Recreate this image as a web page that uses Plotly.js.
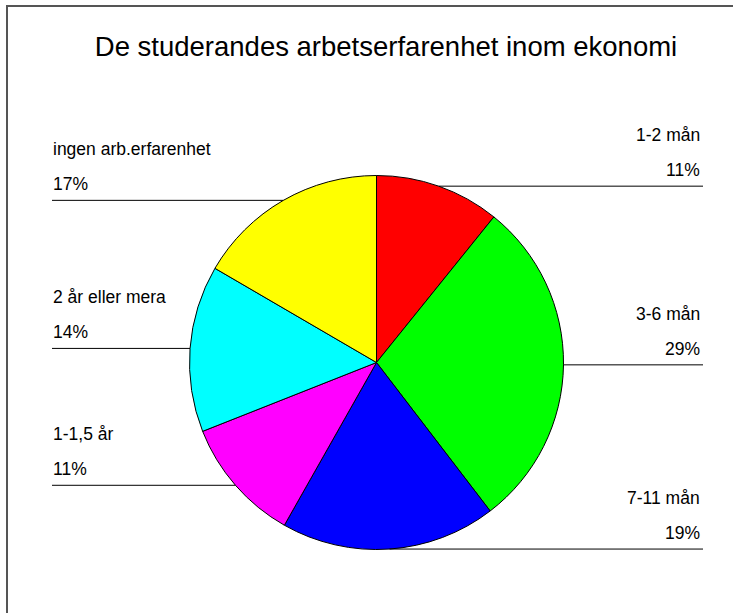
<!DOCTYPE html>
<html>
<head>
<meta charset="utf-8">
<script src="https://cdn.plot.ly/plotly-3.0.1.min.js"></script>
<style>
  html, body { margin: 0; padding: 0; background: #fff; }
  #chart { width: 733px; height: 613px; }
</style>
</head>
<body>
<div id="chart"></div>
<script>
// slices, clockwise from 12 o'clock
const categories = ['1-2 mån', '3-6 mån', '7-11 mån', '1-1,5 år', '2 år eller mera', 'ingen arb.erfarenhet'];
const shares = [10.8, 28.8, 18.6, 10.8, 14.4, 16.6];
const sliceColors = ['#ff0000', '#00ff00', '#0000ff', '#ff00ff', '#00ffff', '#ffff00'];
const chartTitle = 'De studerandes arbetserfarenhet inom ekonomi';

const W = 733, H = 613;
const FONT = 'Liberation Sans, Arial, sans-serif';

// pie placement (px)
const cx = 376.5, cy = 362.5, rad = 187;
const leftEdge = 52, rightEdge = 703;

const pie = {
    type: 'pie',
    values: shares,
    labels: categories,
    sort: false,
    direction: 'clockwise',
    rotation: 0,
    textinfo: 'none',
    hoverinfo: 'none',
    showlegend: false,
    marker: { colors: sliceColors, line: { color: '#000', width: 1 } },
    domain: {
        x: [(cx - rad) / W, (cx + rad) / W],
        y: [1 - (cy + rad) / H, 1 - (cy - rad) / H]
    }
};

// leader lines and labels from slice midpoints
const total = shares.reduce((a, b) => a + b, 0);
const shapes = [];
const annotations = [];
let cum = 0;
shares.forEach((v, i) => {
    const mid = (cum + v / 2) / total * 2 * Math.PI;
    cum += v;
    const px = cx + rad * Math.sin(mid);
    const py = cy - rad * Math.cos(mid);
    const right = Math.sin(mid) > 0;
    shapes.push({
        type: 'line', xref: 'paper', yref: 'paper',
        x0: (right ? px : leftEdge) / W, x1: (right ? rightEdge : px) / W,
        y0: 1 - py / H, y1: 1 - py / H,
        line: { color: '#000', width: 1 }
    });
    const ax = right ? (rightEdge - 1) / W : (leftEdge - 1) / W;
    const anchor = right ? 'right' : 'left';
    annotations.push({
        xref: 'paper', yref: 'paper', x: ax, y: 1 - (py - 51) / H,
        xanchor: anchor, yanchor: 'middle', showarrow: false,
        text: categories[i], font: { family: FONT, size: 17.5, color: '#000' }
    });
    annotations.push({
        xref: 'paper', yref: 'paper', x: ax, y: 1 - (py - 16) / H,
        xanchor: anchor, yanchor: 'middle', showarrow: false,
        text: Math.round(v) + '%', font: { family: FONT, size: 17.5, color: '#000' }
    });
});

// outer frame (right and bottom fall outside the picture)
shapes.push({
    type: 'rect', xref: 'paper', yref: 'paper',
    x0: 7 / W, x1: 1.02, y0: -0.02, y1: 1 - 6 / H,
    line: { color: '#555', width: 2 }
});

const layout = {
    width: W,
    height: H,
    margin: { l: 0, r: 0, t: 0, b: 0 },
    paper_bgcolor: '#fff',
    title: {
        text: chartTitle,
        font: { family: FONT, size: 27.5, color: '#000' },
        x: 386 / W, xanchor: 'center',
        y: 1 - 46 / H, yanchor: 'middle'
    },
    shapes: shapes,
    annotations: annotations
};

Plotly.newPlot('chart', [pie], layout, { displayModeBar: false, staticPlot: true });
</script>
</body>
</html>
